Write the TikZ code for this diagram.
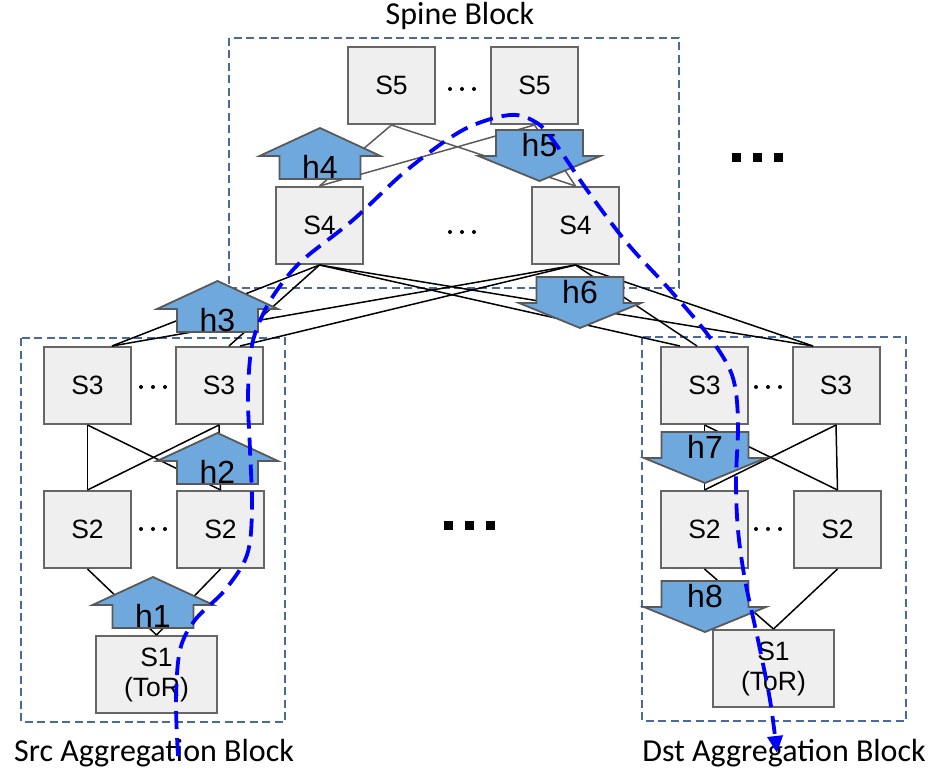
\documentclass[tikz,border=0pt]{standalone}
\usepackage{fontspec}
\setmainfont{Liberation Sans}
\newfontfamily\calibfont{Carlito}
\usetikzlibrary{arrows.meta,calc}
\definecolor{nodefill}{HTML}{EFEFEF}
\definecolor{nodeborder}{HTML}{666666}
\definecolor{arrfill}{HTML}{6FA8DC}
\definecolor{arrborder}{HTML}{595959}
\definecolor{blockline}{HTML}{4A6A9C}
\definecolor{pathblue}{HTML}{0000FF}
\definecolor{spinelink}{HTML}{5A5A5A}

\tikzset{
  sw/.style={draw=nodeborder, fill=nodefill, line width=2pt, minimum width=87pt, minimum height=77pt, inner sep=0pt, align=center, font=\fontsize{26.5}{30}\selectfont},
  tor/.style={sw, minimum width=121pt},
  link/.style={draw=black, line width=1.5pt},
  slink/.style={draw=spinelink, line width=1.5pt},
  arrstyle/.style={draw=arrborder, fill=arrfill, line width=1.8pt, line join=miter},
  hlabel/.style={inner sep=0pt, font=\fontsize{32}{36}\selectfont},
  blockbox/.style={draw=blockline, line width=1.5pt, dash pattern=on 8pt off 4.5pt},
  blocklabel/.style={inner sep=0pt, anchor=base, font=\calibfont\fontsize{32}{36}\selectfont},
  flowpath/.style={draw=pathblue, line width=3.8pt, dash pattern=on 18pt off 9pt, -{Triangle[length=17pt,width=15pt]}},
}

\newcommand\harrowup[4]{%
  \draw[arrstyle] (#2,#3) -- (#2+60.5,#3+28) -- (#2+40.5,#3+28) -- (#2+40.5,#3+51) -- (#2-40.5,#3+51) -- (#2-40.5,#3+28) -- (#2-60.5,#3+28) -- cycle;
  \node[hlabel] (#1) at (#2,#3+39) {#4};
}
\newcommand\harrowdown[4]{%
  \draw[arrstyle] (#2-43.5,#3) -- (#2+43.5,#3) -- (#2+43.5,#3+26) -- (#2+61,#3+26) -- (#2,#3+51) -- (#2-61,#3+26) -- (#2-43.5,#3+26) -- cycle;
  \node[hlabel] (#1) at (#2,#3+15) {#4};
}
\newcommand\smalldots[2]{%
  \foreach \dd in {-12,0,12} {\fill[black] (#1+\dd,#2) circle (2);}
}
\newcommand\bigdots[2]{%
  \foreach \dd in {-21,0,21} {\fill[black] (#1+\dd-4.5,#2-4.5) rectangle (#1+\dd+4.5,#2+4.5);}
}

\begin{document}
\begin{tikzpicture}[x=1pt,y=-1pt]
\useasboundingbox (0,0) rectangle (942,770);

% block outlines
\draw[blockbox] (229,38) rectangle (679,288);
\draw[blockbox] (21,338) rectangle (285,722);
\draw[blockbox] (642,337) rectangle (906,721);

\node[blocklabel] (spinelbl) at (460,25) {Spine Block};
\node[blocklabel] (srclbl) at (154,761) {Src Aggregation Block};
\node[blocklabel] (dstlbl) at (784,761) {Dst Aggregation Block};

% switches
\node[sw] (s5a) at (391.5,85.5) {S5};
\node[sw] (s5b) at (534.5,85.5) {S5};
\node[sw] (s4a) at (319.5,225.5) {S4};
\node[sw] (s4b) at (575.5,225.5) {S4};

\node[sw] (s3a) at (87.5,385.5) {S3};
\node[sw] (s3b) at (219,385.5) {S3};
\node[sw] (s2a) at (87.5,529.5) {S2};
\node[sw] (s2b) at (220.5,529.5) {S2};
\node[tor] (s1a) at (156.5,674.5) {S1\\(ToR)};

\node[sw] (s3c) at (704.5,385.5) {S3};
\node[sw] (s3d) at (836,385.5) {S3};
\node[sw] (s2c) at (704.5,529.5) {S2};
\node[sw] (s2d) at (837.5,529.5) {S2};
\node[tor] (s1b) at (773.5,668.5) {S1\\(ToR)};

% spine links
\draw[slink] (s5a.south) -- (s4a.north);
\draw[slink] (s5a.south) -- (s4b.north);
\draw[slink] (s5b.south) -- (s4a.north);
\draw[slink] (s5b.south) -- (s4b.north);

% spine to aggregation links
\draw[link] (s4a.south) -- ([xshift=24.5pt]s3a.north);
\draw[link] (s4a.south) -- ([xshift=10pt]s3b.north);
\draw[link] (s4a.south) -- ([xshift=-24.5pt]s3c.north);
\draw[link] (s4a.south) -- ([xshift=-23pt]s3d.north);
\draw[link] (s4b.south) -- ([xshift=24.5pt]s3a.north);
\draw[link] (s4b.south) -- ([xshift=21pt]s3b.north);
\draw[link] (s4b.south) -- ([xshift=-7.5pt]s3c.north);
\draw[link] (s4b.south) -- ([xshift=-23pt]s3d.north);

% src block links
\draw[link] (s3a.south) -- (s2a.north);
\draw[link] (s3a.south) -- (s2b.north);
\draw[link] (s3b.south) -- (s2a.north);
\draw[link] (s3b.south) -- (s2b.north);
\draw[link] (s2a.south) -- (s1a.north);
\draw[link] (s2b.south) -- (s1a.north);

% dst block links
\draw[link] (s3c.south) -- (s2c.north);
\draw[link] (s3c.south) -- (s2d.north);
\draw[link] (s3d.south) -- (s2c.north);
\draw[link] (s3d.south) -- (s2d.north);
\draw[link] (s2c.south) -- (s1b.north);
\draw[link] (s2d.south) -- (s1b.north);

% ellipses
\smalldots{462}{89}
\smalldots{462}{232}
\smalldots{153}{387}
\smalldots{153}{529}
\smalldots{768}{387}
\smalldots{768}{529}
\bigdots{757.5}{157.5}
\bigdots{469.5}{525.5}

% hop arrows
\harrowup{h1}{153}{577}{h1}
\harrowup{h2}{217.5}{433}{h2}
\harrowup{h3}{217.5}{281}{h3}
\harrowup{h4}{320}{128}{h4}
\harrowdown{h5}{539.5}{130}{h5}
\harrowdown{h6}{580}{277}{h6}
\harrowdown{h7}{705}{432}{h7}
\harrowdown{h8}{705}{581}{h8}

% flow path
\coordinate (flowstart) at (178,756);
\coordinate (flowend) at (777,753);
\draw[flowpath] plot[smooth, tension=0.55] coordinates {
  (flowstart) (176,700) (180,650) (195,620) (225,590) (247,555) (252,510)
  (250,450) (248,395) (252,345) (265,310) (283,282) (305,258) (353,220)
  (407,170) (463,130) (510,115) (537,123) (555,143) (587,190) (627,243)
  (670,290) (708,335) (732,375) (738,420) (736,480) (738,530) (745,580)
  (758,640) (770,700) (flowend)};
\end{tikzpicture}
\end{document}
